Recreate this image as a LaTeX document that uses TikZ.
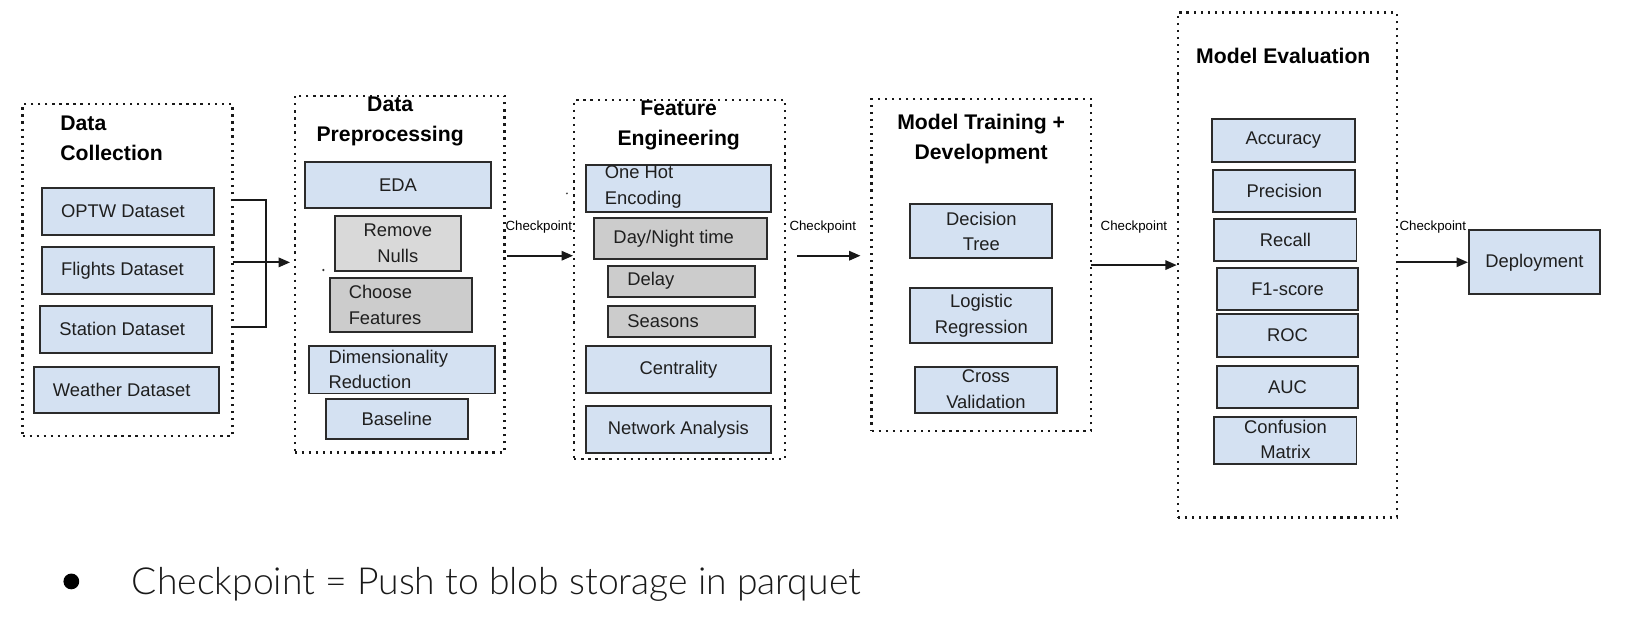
\documentclass[tikz,border=0pt]{standalone}
\usepackage{fontspec}
\setmainfont{Liberation Sans}
\newfontfamily\lightfont{Lato Light}
\usetikzlibrary{fit,arrows.meta,calc}
\definecolor{bluef}{HTML}{D4E1F2}
\definecolor{grayA}{HTML}{D9D9D9}
\definecolor{grayB}{HTML}{CCCCCC}
\definecolor{edgec}{HTML}{2B2B2B}
\begin{document}
\begin{tikzpicture}[x=0.5pt,y=-0.5pt,
  frm/.style={draw=black!90, line width=1.1pt, dash pattern=on 1.1pt off 2.3pt, inner sep=0pt},
  bx/.style={draw=edgec, line width=0.95pt, fill=bluef, inner sep=0pt},
  gbx/.style={bx, fill=grayB},
  lbx/.style={bx, fill=grayA},
  txt/.style={font=\fontsize{8.85}{12.3}\selectfont, text=black!88, inner sep=0pt, align=center},
  ltxt/.style={txt, align=left, anchor=west},
  ttl/.style={font=\bfseries\fontsize{10.2}{14.5}\selectfont, inner sep=0pt, align=center},
  cp/.style={font=\fontsize{6.4}{7}\selectfont, inner sep=0pt, anchor=west},
  ln/.style={line width=1pt, draw=black!90},
  arr/.style={ln, -{Triangle[length=5.5pt,width=4.5pt]}}
]
\path[use as bounding box, fill=white] (0,0) rectangle (1568,595);

% ---------- frames ----------
\node[frm, fit={(21.7,100.2) (224,420)}] (dc) {};
\node[frm, fit={(283.9,92.2) (485.9,435.8)}] (pp) {};
\node[frm, fit={(553,96.3) (756.3,442)}] (fe) {};
\node[frm, fit={(839.5,95.4) (1051,414.9)}] (mt) {};
\node[frm, fit={(1134.5,12) (1345.3,498.4)}] (me) {};

% ---------- titles ----------
\node[ttl, align=left, anchor=west] (dct) at (57.8,133.2) {Data\\Collection};
\node[ttl] (ppt) at (375.8,117.3) {Data\\Preprocessing};
\node[ttl] (fet) at (653.7,120.5) {Feature\\Engineering};
\node[ttl] (mtt) at (945,133.8) {Model Training +\\Development};
\node[ttl] (met) at (1236,54) {Model Evaluation};

% ---------- data collection ----------
\node[bx, fit={(40.3,180.8) (205.8,226.4)}] (optw) {};
\node[ltxt] (optwt) at (58.5,203.6) {OPTW Dataset};
\node[bx, fit={(40.3,237.6) (205.8,282.9)}] (fl) {};
\node[ltxt] (flt) at (58.5,260.3) {Flights Dataset};
\node[bx, fit={(38.5,294.5) (204.4,339.8)}] (st) {};
\node[ltxt] (stt) at (56.8,317.2) {Station Dataset};
\node[bx, fit={(32.3,353.2) (210.6,398.2)}] (we) {};
\node[ltxt] (wet) at (50.6,375.7) {Weather Dataset};

% bracket
\coordinate (b1) at (224,192.7);
\coordinate (b2) at (224,252.7);
\coordinate (b3) at (224,315.3);
\coordinate (bj) at (256.4,252.7);
\draw[ln] (b1) -- (b1 -| bj) -- (b3 -| bj) -- (b3);
\draw[arr, shorten >=1.7pt] (b2) -- (b2 -| pp.west);

% ---------- preprocessing ----------
\node[bx, fit={(294.2,155.7) (472.5,200.7)}] (eda) {};
\node[txt] (edat) at (eda.center) {EDA};
\node[lbx, fit={(322.4,207.8) (443.9,260.8)}] (rn) {};
\node[txt] (rnt) at (rn.center) {Remove\\Nulls};
\node[gbx, fit={(317.6,267.5) (454.6,319.5)}] (cf) {};
\node[ltxt] (cft) at (335.5,293.5) {Choose\\Features};
\node[bx, fit={(298,333) (476.6,379)}] (dr) {};
\node[ltxt] (drt) at (316,356) {Dimensionality\\Reduction};
\node[bx, fit={(313.8,384.7) (450.6,423.2)}] (bl) {};
\node[txt] (blt) at (bl.center) {Baseline};
\fill[black!80] (311.4,260.1) circle[radius=0.6pt];

% checkpoint 1
\node[cp] (cp1) at (486.5,218.4) {Checkpoint};
\coordinate (c1) at (488.6,246.3);
\draw[arr] (c1) -- (c1 -| fe.west);

% ---------- feature engineering ----------
\node[bx, fit={(564.3,159) (742.5,203.9)}] (oh) {};
\node[ltxt] (oht) at (582.2,180) {One Hot\\Encoding};
\node[gbx, fit={(572.2,210.3) (739.1,249.5)}] (dn) {};
\node[txt] (dnt) at (648.9,229.5) {Day/Night time};
\node[gbx, fit={(585.6,255.9) (726.7,285.8)}] (dl) {};
\node[ltxt] (dlt) at (603.8,270.8) {Delay};
\node[gbx, fit={(585.6,294.5) (726.7,324.3)}] (se) {};
\node[ltxt] (set) at (603.8,309.4) {Seasons};
\node[bx, fit={(564.3,333.3) (742.5,378.9)}] (ce) {};
\node[txt] (cet) at (ce.center) {Centrality};
\node[bx, fit={(564.3,391.1) (742.5,436.1)}] (na) {};
\node[txt] (nat) at (na.center) {Network Analysis};
\fill[black!70] (546,186.3) circle[radius=0.5pt];

% checkpoint 2
\node[cp] (cp2) at (760,218.4) {Checkpoint};
\coordinate (c2) at (767.8,246.3);
\draw[arr, shorten >=4.8pt] (c2) -- (c2 -| mt.west);

% ---------- model training ----------
\node[bx, fit={(876.7,196.5) (1013.6,248.9)}] (dt) {};
\node[txt] (dtt) at (dt.center) {Decision\\Tree};
\node[bx, fit={(876.7,277.8) (1013.6,330.1)}] (lr) {};
\node[txt] (lrt) at (lr.center) {Logistic\\Regression};
\node[bx, fit={(881.1,353.2) (1018.1,398.2)}] (cv) {};
\node[txt] (cvt) at ($(cv.center)+(0,-1)$) {Cross\\Validation};

% checkpoint 3
\node[cp] (cp3) at (1059.7,218.4) {Checkpoint};
\coordinate (c3) at (1050.5,255.3);
\draw[arr] (c3) -- (c3 -| me.west);

% ---------- model evaluation ----------
\node[bx, fit={(1167.4,114.6) (1304.6,155.7)}] (acc) {};
\node[txt] (acct) at (acc.center) {Accuracy};
\node[bx, fit={(1168.5,163.8) (1305.4,204.2)}] (pre) {};
\node[txt] (pret) at (pre.center) {Precision};
\node[bx, fit={(1169.6,210.7) (1306.5,251.1)}] (rec) {};
\node[txt] (rect) at (rec.center) {Recall};
\node[bx, fit={(1171.8,257.9) (1308.3,298.7)}] (f1) {};
\node[txt] (f1t) at (f1.center) {F1-score};
\node[bx, fit={(1171.8,302.5) (1308.3,343.6)}] (roc) {};
\node[txt] (roct) at (roc.center) {ROC};
\node[bx, fit={(1171.8,352.3) (1308.3,392.7)}] (auc) {};
\node[txt] (auct) at (auc.center) {AUC};
\node[bx, fit={(1169.6,401.4) (1306.5,447)}] (cm) {};
\node[txt] (cmt) at ($(cm.center)+(0,-1)$) {Confusion\\Matrix};

% checkpoint 4 + deployment
\node[bx, fit={(1414.8,221.6) (1541,283.6)}] (dep) {};
\node[txt] (dept) at (dep.center) {Deployment};
\node[cp] (cp4) at (1347.6,218.4) {Checkpoint};
\coordinate (c4) at (1346,252.6);
\draw[arr] (c4) -- (dep.west);

% ---------- legend ----------
\fill[black] (68.7,560) circle[radius=3.8pt];
\node[text=black!90, inner sep=0pt, anchor=base west] (leg) at (126.7,572.5) {\resizebox{351pt}{!}{\lightfont\fontsize{17.5}{20}\selectfont Checkpoint = Push to blob storage in parquet}};
\end{tikzpicture}
\end{document}
